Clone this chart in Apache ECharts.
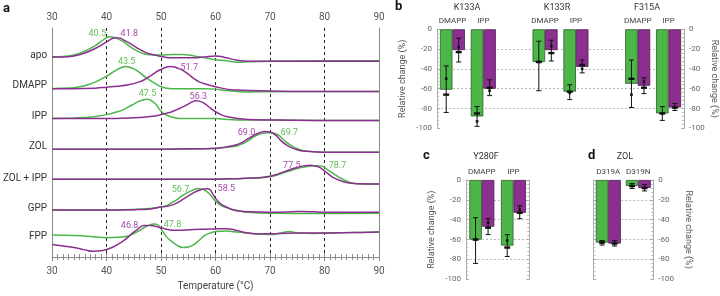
<!DOCTYPE html>
<html>
<head>
<meta charset="utf-8">
<script src="https://cdn.jsdelivr.net/npm/echarts@6/dist/echarts.min.js"></script>
<style>
html,body{margin:0;padding:0;background:#fff}
#main{width:720px;height:296px}
</style>
</head>
<body>
<div id="main"></div>
<script>
(function () {
    var GREEN = '#4cb748', PURPLE = '#8c2f91';
    var GREEN_TXT = '#62bd55', PURPLE_TXT = '#a64aa9';
    var FONT = 'Roboto, sans-serif';

    // ---- panel a : melt curves, [temperature, signal above row baseline]
    var rowNames = ['apo', 'DMAPP', 'IPP', 'ZOL', 'ZOL + IPP', 'GPP', 'FPP'];
    var apoG = [[30,0],[32,0.5],[34,2],[36,6],[38,12],[39,16],[40,20],[40.5,21],[41,20.7],[42,19],[43,16],[44,12],[45,8],[46,5],[47,3],[48,2.3],[50,2],[52,2.5],[54,2.5],[56,1],[58,-1],[60,-3],[62,-4],[64,-5.5],[66,-5],[70,-4.5],[80,-4],[90,-4]];
    var apoP = [[30,0],[32,0],[34,1],[36,4],[38,9],[40,15.5],[41,19],[41.8,20],[42.5,19.5],[43,18],[44,15],[45,11.5],[46,8],[47,5],[48,3],[50,0.5],[52,-1],[54,-1],[56,-1],[58,0],[60,1],[61,0.5],[62,-1],[64,-3.5],[66,-4.5],[70,-4.5],[80,-4.5],[90,-4.5]];
    var dmappG = [[30,0],[32,0.5],[34,1],[36,3],[38,7],[40,13],[41,16.5],[42,20],[43,22.5],[43.5,23],[44,22.5],[45,20.5],[46,17],[47,12.5],[48,8.5],[49,5],[50,2],[51,0.5],[52,0],[56,0],[58,0],[60,-0.5],[62,-2],[64,-3],[66,-3.5],[70,-3.2],[80,-3],[90,-3]];
    var dmappP = [[30,0],[34,0],[38,0.5],[40,1.5],[42,2.5],[44,4],[46,7],[47,9.5],[48,13],[49,17],[50,20],[51,22.5],[51.7,23],[52.5,22.5],[53,21.5],[54,19],[55,15],[56,10.5],[57,7],[58,5],[60,2],[62,-0.5],[64,-1.5],[66,-2],[70,-2.5],[80,-3],[90,-3]];
    var ippG = [[30,0],[34,0.5],[36,1],[38,2],[40,4],[42,7],[43,9],[44,12],[45,15],[46,18],[47,19.8],[47.5,20],[48,19.3],[49,15],[50,7.5],[51,3.5],[52,1.5],[53,0.3],[54,0],[58,0],[60,0],[62,-1],[64,-1.5],[70,-1.5],[80,-2],[90,-2]];
    var ippP = [[30,0],[40,0],[44,0.5],[46,1],[48,2],[50,4],[51,5.5],[52,7],[53,9.5],[54,12],[55,15],[56,18],[56.3,18.5],[57,18],[58,15.5],[59,11],[60,7],[61,4],[62,2],[64,0],[66,-1],[70,-1.5],[80,-2],[90,-2]];
    var zolG = [[30,0],[50,0],[58,0.5],[60,0.7],[62,2],[64,3.7],[65,6],[66,9],[67,13],[68,15.5],[69,17],[69.7,17.3],[70.5,17],[71.5,15],[72.3,11],[73,7.5],[74,3.5],[75,0.5],[76,-1.2],[78,-2.5],[80,-3],[90,-3]];
    var zolP = [[30,0],[50,0],[55,0.5],[58,0.5],[60,1],[62,2.5],[64,5],[65,7.5],[66,11],[67,14.5],[68,17],[69,18.5],[70,18],[71,15],[72,9],[73,4.5],[74,1.5],[75,-0.5],[76,-1.8],[78,-2.5],[80,-3],[90,-3]];
    var zolIppG = [[30,0],[60,0],[64,0.5],[66,1],[68,1.3],[70,2.5],[71,3.7],[72,5.5],[73,7.5],[74,9.3],[75,11],[76,12.3],[77,13.3],[78,13.9],[78.7,14],[79.5,13.5],[80,12],[81,8],[82,4.5],[83,1],[84,-2],[85,-4],[86,-4.7],[90,-5]];
    var zolIppP = [[30,0],[60,0],[64,0.5],[66,1],[68,1.5],[70,3],[71,4.5],[72,6.5],[73,8.5],[74,10.5],[75,12],[76,13.5],[77,14.2],[77.5,14.3],[78,14],[79,12.5],[80,8.5],[81,4],[82,0.5],[83,-1.7],[84,-3.5],[85,-4.3],[86,-4.7],[90,-5]];
    var gppG = [[30,0],[40,0],[45,0.5],[48,1.5],[50,3],[51,4.5],[52,7.5],[53,11],[54,15],[55,18.5],[56,21],[56.7,22.3],[57.5,21.5],[58,20.5],[59,16],[60,9],[61,4.5],[62,2.5],[63,0.5],[64,-0.7],[66,-2.5],[70,-3.5],[80,-3.7],[90,-3.5]];
    var gppP = [[30,0],[40,0],[45,0.3],[48,1],[50,3],[52,5],[53,7.5],[54,11],[55,14.5],[56,18],[57,20.5],[58,21.8],[58.5,22],[59,21],[60,12],[61,6],[62,3],[63,0.5],[64,-0.8],[66,-2],[70,-2.5],[74,-2],[76,-1.5],[78,-2],[80,-2.5],[90,-2.5]];
    var fppG = [[30,0],[34,-0.5],[37,-1.5],[40,-3],[42,-2.5],[44,-1],[45,1.5],[46,4.5],[47,8],[48,10.5],[48.6,11.3],[49.5,10],[50,6.3],[51,-2],[52,-7],[53,-11],[54,-13],[55,-12.5],[56,-10],[57,-5.5],[58,-0.5],[59,2],[60,3.5],[62,4],[64,3],[67,1.3],[70,0.5],[72,2],[73.5,3.5],[75,2],[78,1.5],[80,2],[85,2.5],[90,3]];
    var fppP = [[30,-10],[32,-11.5],[34,-13],[36,-15.5],[37.5,-17],[39,-16.5],[40,-15],[41,-13],[42,-10],[43,-6.5],[44,-2],[44.6,1.3],[45.5,5],[46.8,9.9],[47.5,9.8],[48.5,9.5],[49.5,8],[50,7.3],[51,6],[52,5],[54,5],[56,5.7],[58,6],[60,6.3],[62,6.5],[63,6],[64,4.5],[66,2],[68,1],[70,1.3],[75,2],[80,2],[85,2.5],[90,3]];
    var greenCurves = [apoG, dmappG, ippG, zolG, zolIppG, gppG, fppG];
    var purpleCurves = [apoP, dmappP, ippP, zolP, zolIppP, gppP, fppP];
    var tmGreen = ['40.5', '43.5', '47.5', '69.7', '78.7', '56.7', '47.8'];
    var tmPurple = ['41.8', '51.7', '56.3', '69.0', '77.5', '58.5', '46.8'];

    // layout of the stacked rows (y axis runs 0..238)
    var rowBase = [208, 175, 144, 112, 81, 49, 23];
    var rowLabelY = [209, 178, 146, 115, 82, 51, 21];
    var offGreen = [[-12,-3],[1,-5],[0,-5],[21,0],[20,0],[-17,1],[19,1]];
    var offPurple = [[13,-4],[19,1],[3,-4],[-18,1],[-19,0],[19,0],[-14,0]];

    // ---- panel b
    var bCats = ['DMAPP', 'IPP', '', 'DMAPP', 'IPP', '', 'DMAPP', 'IPP'];
    var bGreen = [-61, -88, null, -33, -63, null, -55, -85];
    var bPurple = [-21, -60, null, -21, -38, null, -57, -79];
    var bGreenErr = [[-37,-84], [-78,-98], null, [-12,-62], [-56,-71], null, [-31,-79], [-78,-92]];
    var bPurpleErr = [[-9,-33], [-51,-67], null, [-11,-32], [-31,-44], null, [-49,-65], [-75,-82]];
    var bGreenPts = [[-66,-50], [-85,-93], null, [-33,-33], [-63,-64], null, [-50,-66], [-85,-85]];
    var bPurplePts = [[-23,-18], [-59,-62], null, [-24,-17], [-36,-40], null, [-59,-53], [-79,-79]];

    // ---- panel c
    var cCats = ['DMAPP', 'IPP'];
    var cGreen = [-60, -66];
    var cPurple = [-47, -33];
    var cGreenErr = [[-38,-84], [-55,-77]];
    var cPurpleErr = [[-39,-55], [-26,-39]];
    var cGreenPts = [[-60,-60], [-68,-61]];
    var cPurplePts = [[-48,-43], [-33,-30]];

    // ---- panel d
    var dCats = ['D319A', 'D319N'];
    var dGreen = [-63, -6];
    var dPurple = [-64, -8];
    var dGreenErr = [[-61,-65.5], [-3.5,-8.5]];
    var dPurpleErr = [[-61,-66.5], [-4.5,-11]];
    var dGreenPts = [[-63,-63], [-6,-6]];
    var dPurplePts = [[-64,-63.5], [-8,-8]];

    var BAR_W = 12.5;
    var myChart = echarts.init(document.getElementById('main'));
    var series = [];

    function addCurves(curves, color, tms, offs, txtColor) {
        curves.forEach(function (c, r) {
            var data = c.map(function (p) { return [p[0], rowBase[r] + p[1]]; });
            var top = data[0];
            data.forEach(function (p) { if (p[1] > top[1]) top = p; });
            series.push({
                type: 'line', xAxisIndex: 0, yAxisIndex: 0,
                data: data, smooth: 0.4, symbol: 'none',
                lineStyle: {color: color, width: 1.5},
                markPoint: {
                    symbol: 'circle', symbolSize: 0, silent: true,
                    data: [{coord: top, value: tms[r]}],
                    label: {show: true, position: 'inside', offset: offs[r], formatter: tms[r],
                        color: txtColor, fontSize: 9, fontFamily: FONT}
                }
            });
        });
    }
    addCurves(greenCurves, GREEN, tmGreen, offGreen, GREEN_TXT);
    addCurves(purpleCurves, PURPLE, tmPurple, offPurple, PURPLE_TXT);

    function errSeries(axis, errs, pts, dx) {
        var data = [];
        errs.forEach(function (e, i) {
            if (e) data.push([i, e[0], e[1], pts[i][0], pts[i][1]]);
        });
        return {
            type: 'custom', xAxisIndex: axis, yAxisIndex: axis, z: 5, silent: true,
            encode: {x: 0, y: [1, 2, 3, 4]},
            data: data,
            renderItem: function (params, api) {
                var i = api.value(0);
                var a = api.coord([i, api.value(1)]);
                var b = api.coord([i, api.value(2)]);
                var p1 = api.coord([i, api.value(3)]);
                var p2 = api.coord([i, api.value(4)]);
                var x = a[0] + dx;
                var st = {stroke: '#111', lineWidth: 1};
                return {type: 'group', children: [
                    {type: 'line', shape: {x1: x, y1: a[1], x2: x, y2: b[1]}, style: st},
                    {type: 'line', shape: {x1: x - 2.5, y1: a[1], x2: x + 2.5, y2: a[1]}, style: st},
                    {type: 'line', shape: {x1: x - 2.5, y1: b[1], x2: x + 2.5, y2: b[1]}, style: st},
                    {type: 'rect', shape: {x: x - 3, y: p1[1] - 1.2, width: 6, height: 2.4}, style: {fill: '#111'}},
                    {type: 'rect', shape: {x: x - 1.3, y: p2[1] - 1.3, width: 2.6, height: 2.6}, style: {fill: '#111'}}
                ]};
            }
        };
    }
    function addBars(axis, g, p, gErr, pErr, gPts, pPts) {
        series.push({type: 'bar', xAxisIndex: axis, yAxisIndex: axis, data: g, barWidth: BAR_W, barGap: '0%',
            itemStyle: {color: GREEN, borderColor: '#2b5e26', borderWidth: 0.8}});
        series.push({type: 'bar', xAxisIndex: axis, yAxisIndex: axis, data: p, barWidth: BAR_W, barGap: '0%',
            itemStyle: {color: PURPLE, borderColor: '#4a1a4d', borderWidth: 0.8}});
        series.push(errSeries(axis, gErr, gPts, -BAR_W / 2));
        series.push(errSeries(axis, pErr, pPts, BAR_W / 2));
    }
    addBars(1, bGreen, bPurple, bGreenErr, bPurpleErr, bGreenPts, bPurplePts);
    addBars(2, cGreen, cPurple, cGreenErr, cPurpleErr, cGreenPts, cPurplePts);
    addBars(3, dGreen, dPurple, dGreenErr, dPurpleErr, dGreenPts, dPurplePts);

    var axisGray = '#8a8a8a';
    var tempAxis = function (pos, withName) {
        return {
            gridIndex: 0, type: 'value', position: pos, min: 30, max: 90, interval: 10,
            axisLine: {show: true, lineStyle: {color: axisGray, width: 1}},
            axisTick: {show: true, inside: true, length: 4, lineStyle: {color: axisGray}},
            minorTick: {show: true, splitNumber: 10, length: 3, lineStyle: {color: axisGray}},
            axisLabel: {fontSize: 10, color: '#555', fontFamily: FONT, margin: pos === 'top' ? 6 : 9},
            splitLine: {show: withName, showMinLine: false, showMaxLine: false,
                lineStyle: {type: [3, 3], color: '#222', width: 1}},
            name: withName ? 'Temperature (°C)' : '', nameLocation: 'middle', nameGap: 23,
            nameTextStyle: {fontSize: 10, color: '#444', fontFamily: FONT}
        };
    };
    var catAxis = function (idx, cats) {
        return {
            gridIndex: idx, type: 'category', position: 'top', data: cats,
            axisLine: {show: false}, axisTick: {show: false},
            axisLabel: {interval: 0, fontSize: 8, color: '#444', fontFamily: FONT, margin: 4}
        };
    };
    var relAxis = function (idx, pos, labels, name, gap) {
        return {
            gridIndex: idx, type: 'value', position: pos, min: -100, max: 0, interval: 20,
            axisLine: {show: true, lineStyle: {color: '#aaa'}},
            axisTick: {show: true, inside: true, length: 3, lineStyle: {color: '#aaa'}},
            minorTick: {show: true, splitNumber: 5, length: 2, lineStyle: {color: '#bbb'}},
            axisLabel: {show: labels, fontSize: 8, color: '#666', fontFamily: FONT, margin: 5},
            splitLine: {show: pos === 'left', showMinLine: false, showMaxLine: false,
                lineStyle: {type: [2, 2], color: '#aaa', width: 0.8}},
            name: name ? 'Relative change (%)' : '', nameLocation: 'middle', nameGap: gap,
            nameRotate: pos === 'left' ? 90 : -90,
            nameTextStyle: {fontSize: 9, color: '#555', fontFamily: FONT}
        };
    };

    myChart.setOption({
        animation: false,
        textStyle: {fontFamily: FONT},
        grid: [
            {left: 43, top: 28, width: 336, height: 238},
            {left: 437, top: 29.3, width: 247, height: 99},
            {left: 466, top: 180, width: 63.3, height: 99.3},
            {left: 593.3, top: 180, width: 60, height: 99.3}
        ],
        xAxis: [
            tempAxis('bottom', true),
            catAxis(1, bCats),
            catAxis(2, cCats),
            catAxis(3, dCats),
            tempAxis('top', false)
        ],
        yAxis: [
            {
                gridIndex: 0, type: 'value', min: 0, max: 238, position: 'left',
                axisLine: {show: true, lineStyle: {color: axisGray}},
                axisTick: {show: false}, splitLine: {show: false},
                axisLabel: {
                    customValues: rowLabelY, margin: 5, fontSize: 10, color: '#333', fontFamily: FONT,
                    formatter: function (v) { return rowNames[rowLabelY.indexOf(v)]; }
                }
            },
            relAxis(1, 'left', true, true, 30),
            relAxis(2, 'left', true, true, 30),
            relAxis(3, 'left', false, false, 0),
            {
                gridIndex: 0, type: 'value', min: 0, max: 238, position: 'right',
                axisLine: {show: true, lineStyle: {color: axisGray}},
                axisTick: {show: false}, axisLabel: {show: false}, splitLine: {show: false}
            },
            relAxis(1, 'right', true, true, 26),
            relAxis(2, 'right', false, false, 0),
            relAxis(3, 'right', true, true, 30)
        ],
        graphic: [
            {type: 'text', left: 3, top: 2, style: {text: 'a', font: 'bold 13px ' + FONT, fill: '#111'}},
            {type: 'text', left: 395, top: 0, style: {text: 'b', font: 'bold 13px ' + FONT, fill: '#111'}},
            {type: 'text', left: 423, top: 149, style: {text: 'c', font: 'bold 13px ' + FONT, fill: '#111'}},
            {type: 'text', left: 588, top: 149, style: {text: 'd', font: 'bold 13px ' + FONT, fill: '#111'}},
            {type: 'text', x: 467, y: 8, style: {text: 'K133A', align: 'center', verticalAlign: 'middle', font: '9px ' + FONT, fill: '#333'}},
            {type: 'text', x: 557, y: 8, style: {text: 'K133R', align: 'center', verticalAlign: 'middle', font: '9px ' + FONT, fill: '#333'}},
            {type: 'text', x: 647, y: 8, style: {text: 'F315A', align: 'center', verticalAlign: 'middle', font: '9px ' + FONT, fill: '#333'}},
            {type: 'text', x: 486, y: 157, style: {text: 'Y280F', align: 'center', verticalAlign: 'middle', font: '9px ' + FONT, fill: '#333'}},
            {type: 'text', x: 625, y: 157, style: {text: 'ZOL', align: 'center', verticalAlign: 'middle', font: '9px ' + FONT, fill: '#333'}}
        ],
        series: series
    });
})();
</script>
</body>
</html>
